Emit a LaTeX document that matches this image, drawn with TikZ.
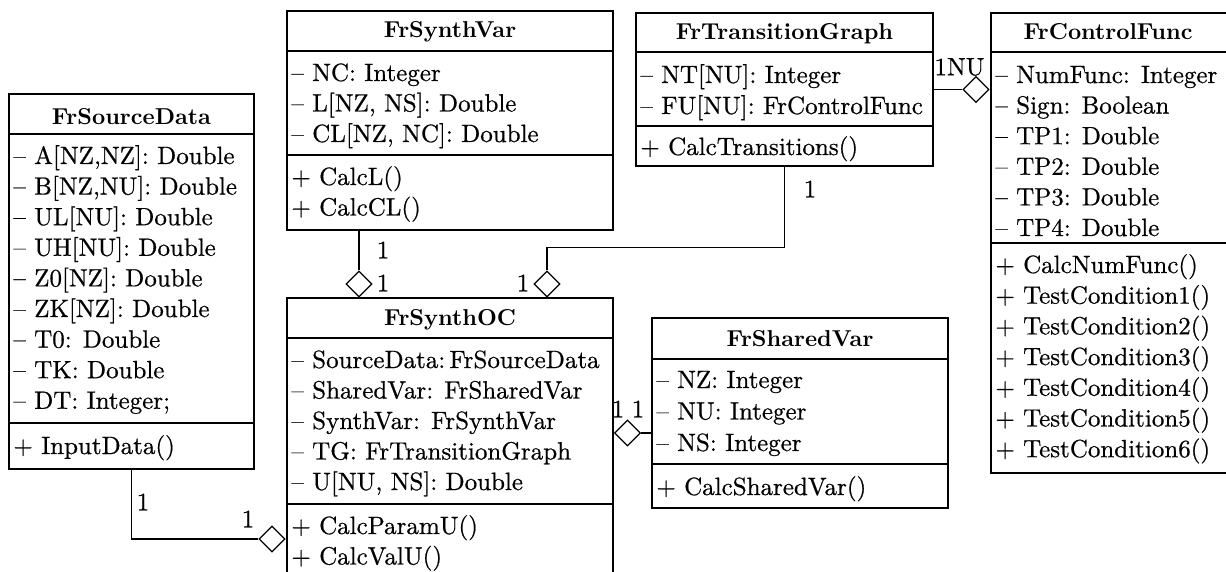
\documentclass[tikz,border=0pt]{standalone}
\usepackage{fontspec}
\usetikzlibrary{shapes.geometric,fit,calc}

% class text: Latin Modern 10pt design, slightly thickened
\newfontfamily\umlrm{lmroman10-regular.otf}[Ligatures=TeX, RawFeature={embolden=0.6}]
\newfontfamily\umlbf{lmroman10-bold.otf}[Ligatures=TeX]

\tikzset{
  umlbox/.style={draw, line width=0.7pt, inner sep=0pt},
  sepline/.style={line width=0.7pt},
  attr/.style={anchor=base west, inner sep=0pt, font=\umlrm\fontsize{12.5}{15}\selectfont},
  ctitle/.style={anchor=base, inner sep=0pt, font=\umlbf\fontsize{11.5}{14}\selectfont},
  mult/.style={inner sep=0pt, font=\umlrm\fontsize{12.5}{15}\selectfont},
  agg/.style={diamond, draw, fill=white, line width=0.6pt, inner sep=0pt,
              minimum width=13pt, minimum height=13pt},
  link/.style={line width=0.6pt},
}

\begin{document}
\begin{tikzpicture}[x=0.5pt, y=-0.5pt]
\useasboundingbox (0,0) rectangle (1226,572);
\clip (0,0) rectangle (1226,572);

% ---------- FrSourceData ----------
\coordinate (src-nw) at (9,94);
\coordinate (src-se) at (254,469);
\node[umlbox, fit=(src-nw)(src-se)] (src) {};
\node[ctitle] (src-t) at (131.5,125) {FrSourceData};
\draw[sepline] (src.west |- 0,134) -- (src.east |- 0,134);
\draw[sepline] (src.west |- 0,423) -- (src.east |- 0,423);
\foreach \t [count=\i] in {{-- A[NZ,NZ]: Double},{-- B[NZ,NU]: Double},{-- UL[NU]: Double},
  {-- UH[NU]: Double},{-- Z0[NZ]: Double},{-- ZK[NZ]: Double},{-- T0: Double},
  {-- TK: Double},{-- DT: Integer;}}
  \node[attr] (src-a\i) at (13,{164+30.6*(\i-1)}) {\t};
\node[attr] (src-m1) at (13,454) {+ InputData()};

% ---------- FrSynthVar ----------
\coordinate (sv-nw) at (287,11);
\coordinate (sv-se) at (613,230);
\node[umlbox, fit=(sv-nw)(sv-se)] (sv) {};
\node[ctitle] (sv-t) at (450,38) {FrSynthVar};
\draw[sepline] (sv.west |- 0,51) -- (sv.east |- 0,51);
\draw[sepline] (sv.west |- 0,155) -- (sv.east |- 0,155);
\foreach \t [count=\i] in {{-- NC: Integer},{-- L[NZ, NS]: Double},{-- CL[NZ, NC]: Double}}
  \node[attr] (sv-a\i) at (291,{81+30.5*(\i-1)}) {\t};
\foreach \t [count=\i] in {{+ CalcL()},{+ CalcCL()}}
  \node[attr] (sv-m\i) at (291,{185+30.5*(\i-1)}) {\t};

% ---------- FrSynthOC ----------
\coordinate (oc-nw) at (287,298);
\coordinate (oc-se) at (613,600);
\node[umlbox, fit=(oc-nw)(oc-se)] (oc) {};
\node[ctitle] (oc-t) at (450,326) {FrSynthOC};
\draw[sepline] (oc.west |- 0,338) -- (oc.east |- 0,338);
\draw[sepline] (oc.west |- 0,504) -- (oc.east |- 0,504);
\foreach \t [count=\i] in {{-- SourceData:\,FrSourceData},{-- SharedVar: FrSharedVar},
  {-- SynthVar: FrSynthVar},{-- TG: FrTransitionGraph},{-- U[NU, NS]: Double}}
  \node[attr] (oc-a\i) at (291,{368+30.5*(\i-1)}) {\t};
\foreach \t [count=\i] in {{+ CalcParamU()},{+ CalcValU()}}
  \node[attr] (oc-m\i) at (291,{534+30.5*(\i-1)}) {\t};

% ---------- FrTransitionGraph ----------
\coordinate (tg-nw) at (636,13);
\coordinate (tg-se) at (933,166);
\node[umlbox, fit=(tg-nw)(tg-se)] (tg) {};
\node[ctitle] (tg-t) at (784.5,40) {FrTransitionGraph};
\draw[sepline] (tg.west |- 0,52) -- (tg.east |- 0,52);
\draw[sepline] (tg.west |- 0,126) -- (tg.east |- 0,126);
\foreach \t [count=\i] in {{-- NT[NU]: Integer},{-- FU[NU]: FrControlFunc}}
  \node[attr] (tg-a\i) at (640,{83+31*(\i-1)}) {\t};
\node[attr] (tg-m1) at (640,155) {+ CalcTransitions()};

% ---------- FrControlFunc ----------
\coordinate (cf-nw) at (991,13);
\coordinate (cf-se) at (1232,473);
\node[umlbox, fit=(cf-nw)(cf-se)] (cf) {};
\node[ctitle] (cf-t) at (1108,40) {FrControlFunc};
\draw[sepline] (cf.west |- 0,52) -- (cf.east |- 0,52);
\draw[sepline] (cf.west |- 0,243) -- (cf.east |- 0,243);
\foreach \t [count=\i] in {{-- NumFunc: Integer},{-- Sign: Boolean},{-- TP1: Double},
  {-- TP2: Double},{-- TP3: Double},{-- TP4: Double}}
  \node[attr] (cf-a\i) at (995,{83+30.6*(\i-1)}) {\t};
\foreach \t [count=\i] in {{+ CalcNumFunc()},{+ TestCondition1()},{+ TestCondition2()},
  {+ TestCondition3()},{+ TestCondition4()},{+ TestCondition5()},{+ TestCondition6()}}
  \node[attr] (cf-m\i) at (995,{273+30.7*(\i-1)}) {\t};

% ---------- FrSharedVar ----------
\coordinate (sh-nw) at (652,318);
\coordinate (sh-se) at (948,508);
\node[umlbox, fit=(sh-nw)(sh-se)] (sh) {};
\node[ctitle] (sh-t) at (800,346) {FrSharedVar};
\draw[sepline] (sh.west |- 0,359) -- (sh.east |- 0,359);
\draw[sepline] (sh.west |- 0,464) -- (sh.east |- 0,464);
\foreach \t [count=\i] in {{-- NZ: Integer},{-- NU: Integer},{-- NS: Integer}}
  \node[attr] (sh-a\i) at (656,{388+31.5*(\i-1)}) {\t};
\node[attr] (sh-m1) at (656,495) {+ CalcSharedVar()};

% ---------- aggregation diamonds ----------
\node[agg] (d1) at (359,284) {};
\node[agg] (d2) at (547,284) {};
\node[agg] (d3) at (976,89.5) {};
\node[agg] (d4) at (627.5,433) {};
\node[agg] (d5) at (272,539) {};

% ---------- associations ----------
\draw[link] (d1.north) -- (d1.north |- sv.south);
\draw[link] (d2.north) |- ($(tg.south west)+(149,81)$) -- ($(tg.south west)+(149,0)$);
\draw[link] (tg.east |- d3) -- (d3.west);
\draw[link] (d4.east) -- (sh.west |- d4);
\draw[link] ($(src.south west)+(123,0)$) |- (d5.west);

% ---------- multiplicities ----------
\node[mult] (m1a) at (383,250) {1};
\node[mult] (m1b) at (383,283) {1};
\node[mult] (m2a) at (810,189) {1};
\node[mult] (m2b) at (523,283) {1};
\node[mult] (m3)  at (959.5,67) {1NU};
\node[mult] (m4a) at (618,409) {1};
\node[mult] (m4b) at (638,409) {1};
\node[mult] (m5a) at (143,502) {1};
\node[mult] (m5b) at (248,519) {1};
\end{tikzpicture}
\end{document}
